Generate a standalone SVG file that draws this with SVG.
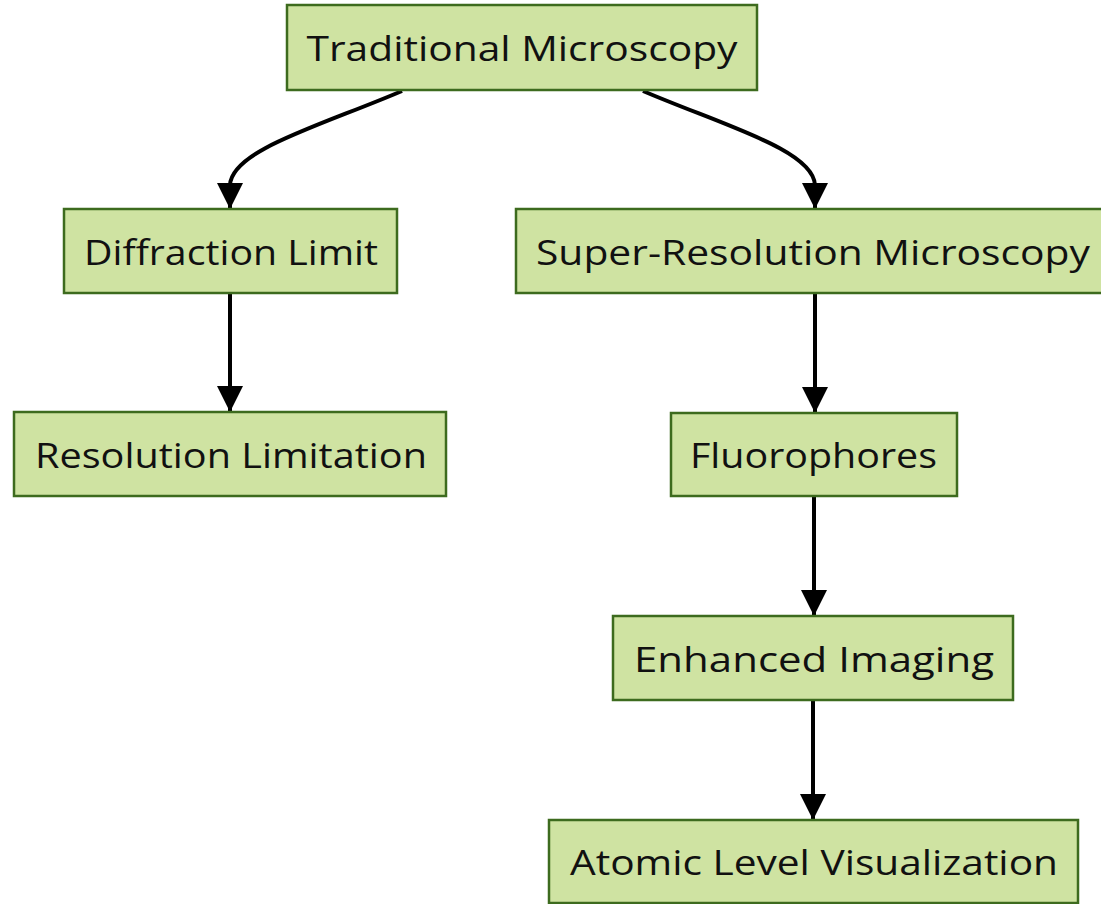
<svg xmlns="http://www.w3.org/2000/svg" width="1101" height="904" viewBox="0 0 1101 904">
<style>
.node rect{fill:#cfe3a2;stroke:#3d6b1e;stroke-width:2.5}
.node text{font-family:"Open Sans","Noto Sans",sans-serif;font-size:35px;fill:#111;text-anchor:middle;dominant-baseline:central}
.edges path{fill:none;stroke:#000;stroke-width:4}
</style>
<defs>
<marker id="arr" viewBox="0 0 10 10" refX="10" refY="5" markerWidth="6.5" markerHeight="6.5" markerUnits="strokeWidth" orient="auto">
<path d="M0,0 L10,5 L0,10 z" fill="#000"/>
</marker>
</defs>
<rect width="1101" height="904" fill="#fff"/>
<g class="edges">
<path d="M402,91 C320,126 232,150 230,185 L230,209" marker-end="url(#arr)"/>
<path d="M643,91 C725,126 813,150 815,185 L815,209" marker-end="url(#arr)"/>
<path d="M230,293 L230,412" marker-end="url(#arr)"/>
<path d="M815,293 L815,413" marker-end="url(#arr)"/>
<path d="M814,496 L814,616" marker-end="url(#arr)"/>
<path d="M813,700 L813,820" marker-end="url(#arr)"/>
</g>
<g id="n1" class="node"><rect x="287" y="5" width="470" height="85"/><text x="522" y="47" textLength="431" lengthAdjust="spacingAndGlyphs">Traditional Microscopy</text></g>
<g id="n2" class="node"><rect x="64" y="209" width="333" height="84"/><text x="231" y="251" textLength="294" lengthAdjust="spacingAndGlyphs">Diffraction Limit</text></g>
<g id="n3" class="node"><rect x="14" y="412" width="432" height="84"/><text x="231" y="454" textLength="392" lengthAdjust="spacingAndGlyphs">Resolution Limitation</text></g>
<g id="n4" class="node"><rect x="516" y="209" width="600" height="84"/><text x="813" y="251" textLength="554" lengthAdjust="spacingAndGlyphs">Super-Resolution Microscopy</text></g>
<g id="n5" class="node"><rect x="671" y="413" width="286" height="83"/><text x="813.5" y="454" textLength="247" lengthAdjust="spacingAndGlyphs">Fluorophores</text></g>
<g id="n6" class="node"><rect x="613" y="616" width="400" height="84"/><text x="814" y="658" textLength="360" lengthAdjust="spacingAndGlyphs">Enhanced Imaging</text></g>
<g id="n7" class="node"><rect x="549" y="820" width="529" height="83"/><text x="814" y="861" textLength="488" lengthAdjust="spacingAndGlyphs">Atomic Level Visualization</text></g>
</svg>
